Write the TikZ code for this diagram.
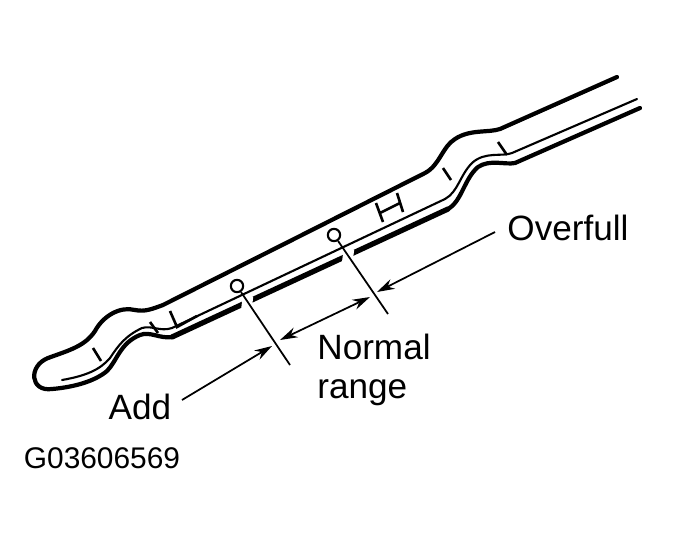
\documentclass[tikz,border=0pt]{standalone}
\usepackage{fontspec}
\setmainfont{Liberation Sans}
\usetikzlibrary{arrows.meta}
\begin{document}
\begin{tikzpicture}[x=0.02cm,y=-0.02cm,
    edge/.style={line width=2.4pt, line join=round, line cap=round},
    inner/.style={line width=1.2pt, line cap=round},
    gap/.style={white, line width=6pt},
    leader/.style={line width=1pt},
    dim/.style={line width=1pt, -{Stealth[length=10pt,width=6pt]}},
    tick/.style={line width=1.5pt},
    label/.style={font=\fontsize{20}{22}\selectfont, align=left},
    pin/.style={circle, draw, line width=1.2pt, inner sep=0pt, minimum size=7pt}
]
\useasboundingbox (0,0) rectangle (679,539);

% === Dipstick outline ===
\draw[edge] (48,358) .. controls (70,350) and (85,346) .. (95,331)
  .. controls (103,316) and (120,306) .. (135,310)
  .. controls (145,312) and (152,309) .. (163,305)
  -- (425,173)
  .. controls (440,165) and (442,147) .. (455,139)
  .. controls (470,129) and (488,133) .. (500,129)
  -- (617,77);
\draw[edge] (48,358) .. controls (28,366) and (30,392) .. (52,389)
  .. controls (75,387) and (95,381) .. (107,371)
  .. controls (117,361) and (120,343) .. (140,335)
  .. controls (150,331) and (160,339) .. (172,337);
\draw[edge, line width=3pt] (172,337) -- (448,209);
\draw[edge] (448,209)
  .. controls (462,201) and (464,179) .. (478,167)
  .. controls (490,159) and (505,165) .. (515,163)
  -- (640,108);
% inner line along the lower edge
\draw[inner] (62,380) .. controls (85,376) and (100,370) .. (110,358)
  .. controls (118,346) and (125,336) .. (142,328)
  .. controls (152,325) and (160,332) .. (172,328)
  -- (445,199)
  .. controls (458,192) and (460,175) .. (472,163)
  .. controls (485,151) and (502,157) .. (512,153)
  -- (637,99);
% breaks in the lower lines
\draw[gap] (248,296) -- (246,313);
\draw[gap] (349,249) -- (347,264);

% === Marks ===
\draw[tick] (93,348) -- (101,361);
\draw[tick] (150,322) -- (158,333);
\draw[tick] (443,168) -- (451,180);
\draw[tick] (498,142) -- (507,155);
\draw[tick] (170,311) -- (177,327) -- (197,316);
\draw[tick] (376,203) -- (383,222) (397,193) -- (403,212) (380,213) -- (400,203);

% === Pins and leaders ===
\node[pin, fill=white] (pinL) at (237,286) {};
\node[pin, fill=white] (pinH) at (334,235) {};
\coordinate (footL) at (290,365);
\coordinate (footH) at (388,314);
\draw[leader] (pinL) -- (footL);
\draw[leader] (pinH) -- (footH);

% === Dimension arrows ===
\coordinate (addS) at (182,400);
\coordinate (addE) at (272,346);
\coordinate (nrS) at (280,340);
\coordinate (nrE) at (370,297);
\coordinate (ovS) at (377,292);
\coordinate (ovE) at (495,232);
\draw[dim] (addS) -- (addE);
\draw[dim, {Stealth[length=10pt,width=6pt]}-{Stealth[length=10pt,width=6pt]}] (nrS) -- (nrE);
\draw[dim, {Stealth[length=10pt,width=6pt]}-] (ovS) -- (ovE);

% === Labels ===
\node[label] (over) at (568,228) {Overfull};
\node[label] (normal) at (374,370) {Normal\\range};
\node[label] (add) at (140,407) {Add};
\node[font=\fontsize{17}{19}\selectfont] (code) at (102,458) {G03606569};
\end{tikzpicture}
\end{document}
